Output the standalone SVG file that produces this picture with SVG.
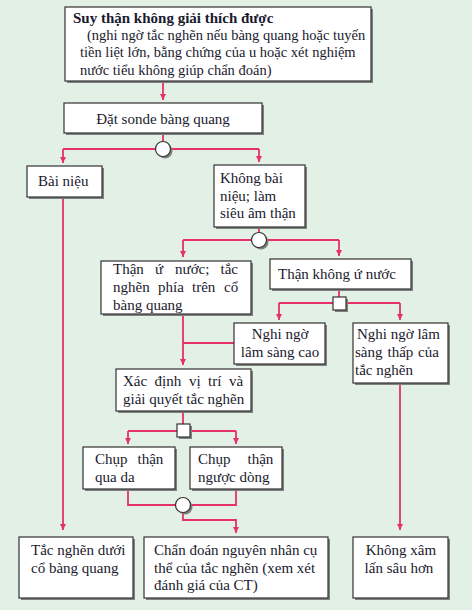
<svg xmlns="http://www.w3.org/2000/svg" width="472" height="610" viewBox="0 0 472 610">
<style>
.bg{fill:#e3f0e5}
.sh{fill:#808080}
.bx{fill:#ffffff;stroke:#333333;stroke-width:1.2}
.t{font-family:"Liberation Serif","Times New Roman",serif;font-size:15px;fill:#1a1a2e}
.ts{font-family:"Liberation Serif","Times New Roman",serif;font-size:14.5px;fill:#1a1a2e}
.tb{font-family:"Liberation Serif","Times New Roman",serif;font-size:15px;font-weight:bold;fill:#1a1a2e}
.c{fill:none;stroke:#e5306b;stroke-width:1.8}
.j{fill:#ffffff;stroke:#333333;stroke-width:1.2}
</style>
<defs>
<marker id="ah" markerWidth="8" markerHeight="8" refX="6" refY="3" orient="auto" markerUnits="userSpaceOnUse">
<path d="M0,0 L6,3 L0,6 Z" fill="#e5306b"/>
</marker>
</defs>
<rect class="bg" x="0" y="0" width="472" height="610"/>

<g id="connectors">
<path class="c" d="M163,81 V100" marker-end="url(#ah)"/>
<path class="c" d="M163,133 V149 M63,149 H259"/>
<path class="c" d="M63,149 V163" marker-end="url(#ah)"/>
<path class="c" d="M259,149 V162" marker-end="url(#ah)"/>
<path class="c" d="M63,197 V530" marker-end="url(#ah)"/>
<path class="c" d="M259,227 V240 M183,240 H339"/>
<path class="c" d="M183,240 V257" marker-end="url(#ah)"/>
<path class="c" d="M339,240 V256" marker-end="url(#ah)"/>
<path class="c" d="M339,289 V303 M279,303 H400"/>
<path class="c" d="M279,303 V320" marker-end="url(#ah)"/>
<path class="c" d="M400,303 V320" marker-end="url(#ah)"/>
<path class="c" d="M183,343 H234"/>
<path class="c" d="M183,314 V365" marker-end="url(#ah)"/>
<path class="c" d="M400,383 V530" marker-end="url(#ah)"/>
<path class="c" d="M183,411 V431 M128,431 H236"/>
<path class="c" d="M128,431 V444" marker-end="url(#ah)"/>
<path class="c" d="M236,431 V444" marker-end="url(#ah)"/>
<path class="c" d="M128,489 V505 H236 V489"/>
<path class="c" d="M183,505 V520 H236 V533" marker-end="url(#ah)"/>
</g>

<g id="junctions">
<circle class="sh" cx="165" cy="151" r="7.5"/>
<circle class="j" cx="163" cy="149" r="7.5"/>
<circle class="sh" cx="261" cy="242" r="7.5"/>
<circle class="j" cx="259" cy="240" r="7.5"/>
<rect class="sh" x="335" y="299" width="13" height="13"/>
<rect class="j" x="333" y="297" width="13" height="13"/>
<rect class="sh" x="179" y="426" width="13" height="13"/>
<rect class="j" x="177" y="424" width="13" height="13"/>
<circle class="sh" cx="185" cy="507" r="7.5"/>
<circle class="j" cx="183" cy="505" r="7.5"/>
</g>

<g id="n1">
<rect class="sh" x="67" y="9" width="306" height="74"/>
<rect class="bx" x="65" y="7" width="306" height="74"/>
<text class="tb" x="73" y="23">Suy thận không giải thích được</text>
<text class="ts" x="87" y="40">(nghi ngờ tắc nghẽn nếu bàng quang hoặc tuyến</text>
<text class="ts" x="80" y="57">tiền liệt lớn, bằng chứng của u hoặc xét nghiệm</text>
<text class="ts" x="80" y="75">nước tiểu không giúp chẩn đoán)</text>
</g>

<g id="n2">
<rect class="sh" x="66" y="105" width="198" height="30"/>
<rect class="bx" x="64" y="103" width="198" height="30"/>
<text class="t" x="163" y="124" text-anchor="middle">Đặt sonde bàng quang</text>
</g>

<g id="n3">
<rect class="sh" x="29" y="168" width="75" height="31"/>
<rect class="bx" x="27" y="166" width="75" height="31"/>
<text class="t" x="38" y="186">Bài niệu</text>
</g>

<g id="n4">
<rect class="sh" x="216" y="167" width="91" height="62"/>
<rect class="bx" x="214" y="165" width="91" height="62"/>
<text class="t" x="220" y="183">Không bài</text>
<text class="t" x="220" y="201">niệu; làm</text>
<text class="t" x="220" y="218">siêu âm thận</text>
</g>

<g id="n5">
<rect class="sh" x="103" y="263" width="150" height="53"/>
<rect class="bx" x="101" y="261" width="150" height="53"/>
<text class="t" y="274"><tspan x="113">Thận</tspan><tspan x="155">ứ</tspan><tspan x="175">nước;</tspan><tspan x="220.5">tắc</tspan></text>
<text class="t" y="292"><tspan x="113">nghẽn</tspan><tspan x="158">phía</tspan><tspan x="192">trên</tspan><tspan x="224">cổ</tspan></text>
<text class="t" x="113" y="310">bàng quang</text>
</g>

<g id="n6">
<rect class="sh" x="272" y="261" width="141" height="30"/>
<rect class="bx" x="270" y="259" width="141" height="30"/>
<text class="t" x="278" y="279">Thận không ứ nước</text>
</g>

<g id="n7">
<rect class="sh" x="236" y="325" width="91" height="41"/>
<rect class="bx" x="234" y="323" width="91" height="41"/>
<text class="t" x="280" y="339" text-anchor="middle">Nghi ngờ</text>
<text class="t" x="280" y="357" text-anchor="middle">lâm sàng cao</text>
</g>

<g id="n8">
<rect class="sh" x="355" y="325" width="95" height="60"/>
<rect class="bx" x="353" y="323" width="95" height="60"/>
<text class="t" x="357" y="339">Nghi ngờ lâm</text>
<text class="t" y="357"><tspan x="355">sàng</tspan><tspan x="387.5">thấp</tspan><tspan x="418">của</tspan></text>
<text class="t" x="355" y="375">tắc nghẽn</text>
</g>

<g id="n9">
<rect class="sh" x="118" y="371" width="135" height="42"/>
<rect class="bx" x="116" y="369" width="135" height="42"/>
<text class="t" y="386"><tspan x="123">Xác</tspan><tspan x="154.5">định</tspan><tspan x="189">vị</tspan><tspan x="208">trí</tspan><tspan x="229">và</tspan></text>
<text class="t" x="123" y="404">giải quyết tắc nghẽn</text>
</g>

<g id="n10">
<rect class="sh" x="85" y="449" width="92" height="42"/>
<rect class="bx" x="83" y="447" width="92" height="42"/>
<text class="t" y="464"><tspan x="95">Chụp</tspan><tspan x="137.5">thận</tspan></text>
<text class="t" x="95" y="482">qua da</text>
</g>

<g id="n11">
<rect class="sh" x="192" y="449" width="92" height="42"/>
<rect class="bx" x="190" y="447" width="92" height="42"/>
<text class="t" y="464"><tspan x="198">Chụp</tspan><tspan x="247.5">thận</tspan></text>
<text class="t" x="198" y="482">ngược dòng</text>
</g>

<g id="n12">
<rect class="sh" x="21" y="539" width="114" height="61"/>
<rect class="bx" x="19" y="537" width="114" height="61"/>
<text class="t" x="31" y="555">Tắc nghẽn dưới</text>
<text class="t" x="31" y="573">cổ bàng quang</text>
</g>

<g id="n13">
<rect class="sh" x="146" y="539" width="184" height="61"/>
<rect class="bx" x="144" y="537" width="184" height="61"/>
<text class="t" x="154" y="555">Chẩn đoán nguyên nhân cụ</text>
<text class="t" x="154" y="573">thể của tắc nghẽn (xem xét</text>
<text class="t" x="154" y="590">đánh giá của CT)</text>
</g>

<g id="n14">
<rect class="sh" x="355" y="539" width="95" height="61"/>
<rect class="bx" x="353" y="537" width="95" height="61"/>
<text class="t" x="401" y="555" text-anchor="middle">Không xâm</text>
<text class="t" x="399" y="573" text-anchor="middle">lấn sâu hơn</text>
</g>
</svg>
